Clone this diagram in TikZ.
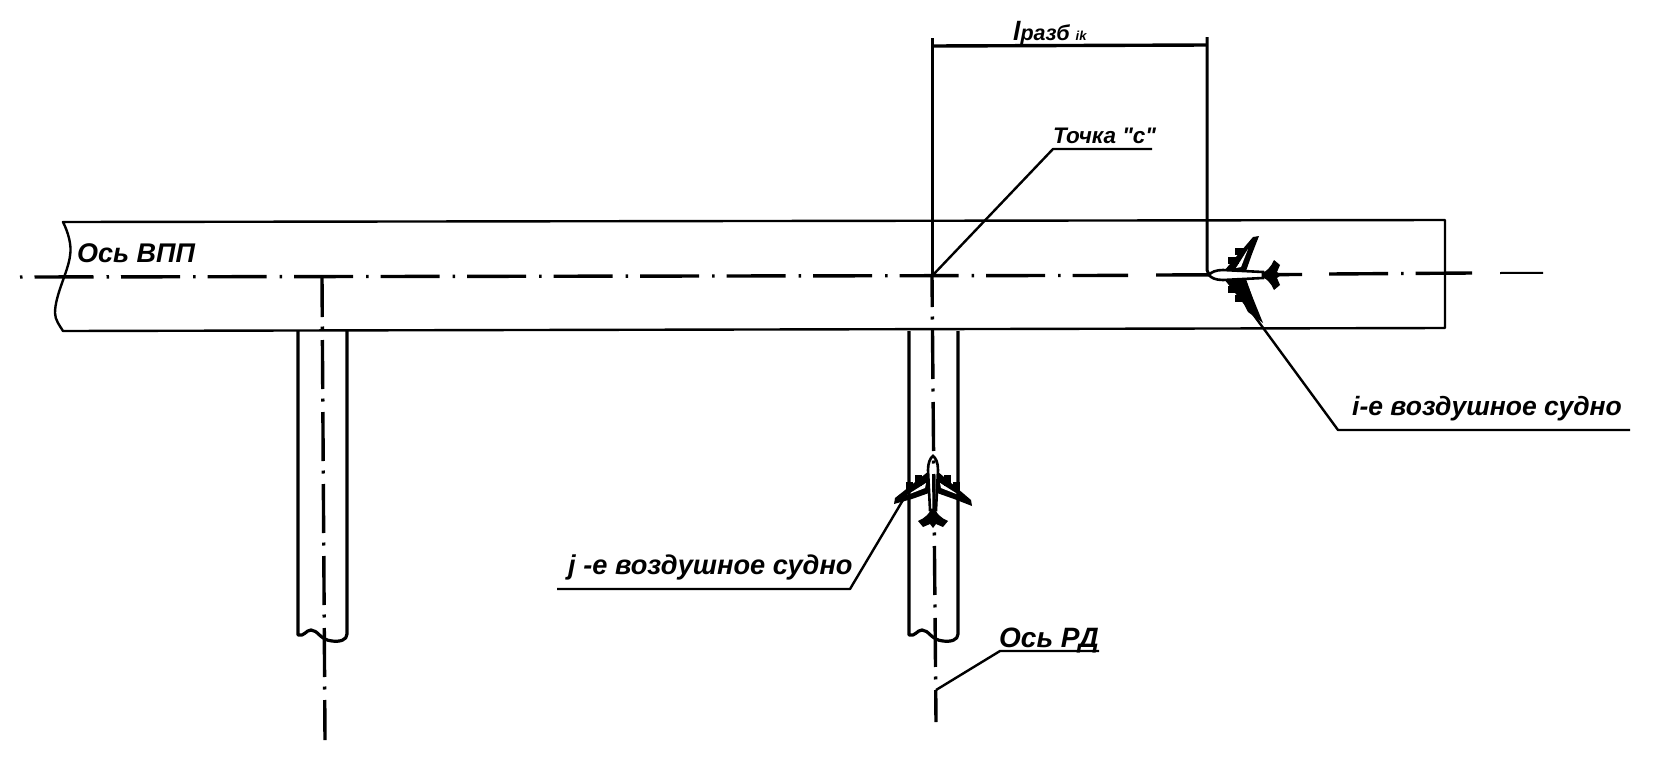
\documentclass[tikz,border=0pt]{standalone}
\usepackage{fontspec}
\setmainfont{Liberation Sans}[Ligatures=TeXOff]
\begin{document}
\begin{tikzpicture}[
    x=1pt, y=-1pt,
    edge/.style={line width=2.4pt, line join=round},
    taxi/.style={line width=3.2pt, line join=round},
    axisrun/.style={line width=3.4pt, dash pattern=on 59pt off 13pt on 2.5pt off 12pt},
    axistaxi/.style={line width=3.4pt, dash pattern=on 49pt off 9.5pt on 3pt off 10.5pt},
    extline/.style={line width=3pt},
    leader/.style={line width=2.4pt, line join=round},
    label/.style={font=\fontsize{26.5}{30}\selectfont\bfseries\itshape, inner sep=0pt, anchor=base west},
    aircraft/.pic={
        % wings
        \fill (-4,-19) -- (-38,8) -- (-39,14) -- (-21,9) -- (-4,3) -- cycle;
        \fill (4,-19) -- (38,10) -- (39,16) -- (21,9) -- (4,3) -- cycle;
        \fill[white] (-7,-7) -- (-26,5) -- (-8,-2) -- cycle;
        \fill[white] (7,-7) -- (26,5) -- (8,-2) -- cycle;
        % engines
        \fill (-11,-15) rectangle (-18,-4);
        \fill (11,-15) rectangle (18,-4);
        \fill (-20,-8) rectangle (-27,1);
        \fill (20,-8) rectangle (27,1);
        % tail
        \fill (0,14) .. controls (3,24) and (8,28) .. (15,31) -- (10,37) -- (3,34) -- (0,38) -- (-3,34) -- (-10,37) -- (-15,31) .. controls (-8,28) and (-3,24) .. (0,14) -- cycle;
        % body
        \draw[line width=2.6pt, fill=white] (0,-34) .. controls (3,-32) and (5,-27) .. (5,-20) -- (3,20) -- (-3,20) -- (-5,-20) .. controls (-5,-27) and (-3,-32) .. (0,-34) -- cycle;
    }
]
    \useasboundingbox (0,0) rectangle (1654,758);

    % Aircraft on the taxiway
    \pic (planeJ) at (933,490) {aircraft};

    % Runway
    \draw[edge] (63,222) .. controls (68,232) and (72,245) .. (70,256) .. controls (68,272) and (55,295) .. (55,313) .. controls (55,320) and (60,326) .. (63,331) -- (1445,328) -- (1445,220) -- cycle;

    % Taxiways
    \draw[taxi] (298,331) -- (298,635) .. controls (304,637) and (306,630) .. (311,630) .. controls (318,630) and (320,640) .. (332,641) .. controls (340,642) and (347,640) .. (347,634) -- (347,331);
    \draw[taxi] (909,331) -- (909,635) .. controls (915,637) and (917,630) .. (922,630) .. controls (929,630) and (931,640) .. (943,641) .. controls (951,642) and (958,640) .. (958,634) -- (958,331);

    % Axes
    \coordinate (axisW) at (20,277);
    \coordinate (axisWend) at (1128,275.4);
    \coordinate (axisM) at (1156,275);
    \coordinate (axisMend) at (1302,274.5);
    \coordinate (axisR) at (1329,274);
    \coordinate (axisRend) at (1472,273);
    \coordinate (axisE) at (1500,273);
    \coordinate (axisEend) at (1543,272.8);
    \coordinate (axisC) at (932,276);
    \coordinate (axisL) at (322,277);
    \coordinate (axisLend) at (325,740);
    \coordinate (axisCend) at (936,722);
    \draw[axisrun, dash phase=72pt] (axisW) -- (axisWend);
    \draw[line width=3.4pt] (axisM) -- (axisMend);
    \draw[axisrun] (axisR) -- (axisRend);
    \draw[line width=2pt] (axisE) -- (axisEend);
    \draw[axistaxi, dash phase=9pt] (axisL) -- (axisLend);
    \draw[axistaxi, dash phase=18pt] (axisC) -- (axisCend);

    % Dimension
    \coordinate (dimL) at (932,38);
    \coordinate (dimR) at (1207,37);
    \coordinate (dimA) at (932,46);
    \coordinate (dimB) at (1207,45);
    \coordinate (dimCorner) at (1207,275);
    \coordinate (dimEnd) at (1222,275);
    \draw[extline] (dimL) -- (axisC);
    \draw[extline, rounded corners=5pt] (dimR) -- (dimCorner) -- (dimEnd);
    \draw[line width=3.4pt] (dimA) -- (dimB);
    \node[label] (dimtext) at (1013,40) {l\fontsize{21.5}{22}\selectfont разб \fontsize{13}{14}\selectfont ik};

    % Aircraft on the runway
    \pic[rotate=90] (planeI) at (1243,275) {aircraft};
    \fill (1232,281) -- (1246,281) -- (1263,323) -- (1248,312) -- cycle;

    % Labels
    \node[label, font=\fontsize{27}{30}\selectfont\bfseries\itshape] (vpp) at (77,262) {Ось ВПП};
    \node[label, font=\fontsize{22.5}{26}\selectfont\bfseries\itshape] (pointc) at (1053,143) {Точка "с"};
    \node[label] (planei) at (1352,415) {i-е воздушное судно};
    \node[label, font=\fontsize{27.2}{30}\selectfont\bfseries\itshape] (planej) at (568,574) {j -е воздушное судно};
    \node[label, font=\fontsize{28}{30}\selectfont\bfseries\itshape] (axisrd) at (999,647) {Ось РД};

    % Leaders
    \coordinate (pointcA) at (1053,149);
    \coordinate (pointcB) at (1152,149);
    \draw[leader] (axisC) -- (pointcA) -- (pointcB);
    \coordinate (planeiS) at (1250,310);
    \coordinate (planeiA) at (1338,430);
    \coordinate (planeiB) at (1630,430);
    \draw[leader] (planeiS) -- (planeiA) -- (planeiB);
    \coordinate (planejS) at (903,500);
    \coordinate (planejA) at (850,589);
    \coordinate (planejB) at (557,589);
    \draw[leader] (planejS) -- (planejA) -- (planejB);
    \coordinate (axisrdS) at (936,690);
    \coordinate (axisrdA) at (1000,651);
    \coordinate (axisrdB) at (1099,651);
    \draw[leader] (axisrdS) -- (axisrdA) -- (axisrdB);
\end{tikzpicture}
\end{document}
